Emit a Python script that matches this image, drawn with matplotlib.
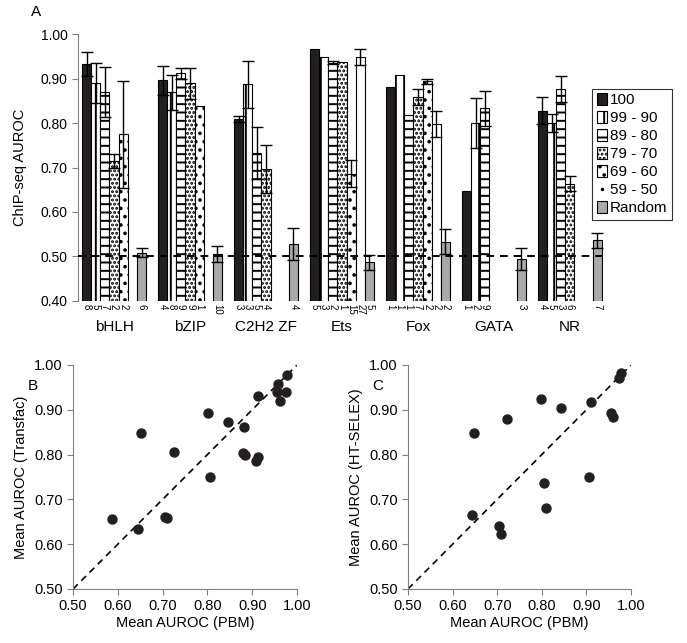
import numpy as np
import matplotlib.pyplot as plt
from matplotlib.patches import Patch
from matplotlib.lines import Line2D

plt.rcParams['font.family'] = ['Liberation Sans', 'DejaVu Sans']
plt.rcParams['hatch.linewidth'] = 1.4

# ---- panel A data ----
groups = ["bHLH", "bZIP", "C2H2 ZF", "Ets", "Fox", "GATA", "NR"]
categories = ["100", "99 - 90", "89 - 80", "79 - 70", "69 - 60", "59 - 50"]

means = [
    [0.933, 0.891, 0.869, 0.715, 0.775],
    [0.896, 0.869, 0.912, 0.889, 0.839],
    [0.809, 0.887, 0.733, 0.696],
    [0.966, 0.948, 0.936, 0.937, 0.686, 0.948],
    [0.882, 0.909, 0.817, 0.858, 0.894, 0.797],
    [0.648, 0.800, 0.833],
    [0.828, 0.800, 0.877, 0.664],
]
errs = [
    [0.027, 0.045, 0.056, 0.016, 0.120],
    [0.032, 0.039, 0.012, 0.035, 0.0],
    [0.007, 0.053, 0.059, 0.054],
    [0.0, 0.0, 0.004, 0.0, 0.030, 0.018],
    [0.0, 0.0, 0.0, 0.018, 0.006, 0.029],
    [0.0, 0.057, 0.040],
    [0.030, 0.020, 0.029, 0.017],
]
counts = [
    [8, 5, 7, 2, 2],
    [4, 8, 9, 9, 1],
    [3, 3, 5, 4],
    [5, 3, 2, 1, 15, 27],
    [1, 1, 1, 7, 2, 2],
    [1, 2, 9],
    [4, 5, 3, 6],
]
rand_mean = [0.508, 0.505, 0.527, 0.487, 0.533, 0.494, 0.536]
rand_err = [0.010, 0.018, 0.036, 0.017, 0.028, 0.024, 0.016]
rand_n = [6, 10, 4, 5, 2, 3, 7]

# ---- panel B / C data ----
pbm_b = [0.978, 0.958, 0.955, 0.975, 0.962, 0.914, 0.801, 0.845, 0.882, 0.651,
         0.725, 0.880, 0.884, 0.912, 0.908, 0.806, 0.586, 0.705, 0.710, 0.646]
transfac = [0.977, 0.957, 0.940, 0.940, 0.919, 0.931, 0.893, 0.872, 0.861, 0.848,
            0.806, 0.803, 0.800, 0.794, 0.785, 0.750, 0.656, 0.661, 0.658, 0.634]

pbm_c = [0.977, 0.972, 0.799, 0.843, 0.910, 0.956, 0.960, 0.723, 0.649, 0.906,
         0.804, 0.810, 0.643, 0.704, 0.708]
htselex = [0.982, 0.971, 0.923, 0.904, 0.917, 0.892, 0.883, 0.879, 0.848, 0.751,
           0.737, 0.680, 0.665, 0.641, 0.622]

# styles per category
face = {"100": "#231f20", "99 - 90": "white", "89 - 80": "white",
        "79 - 70": "white", "69 - 60": "white", "59 - 50": "white"}
hatch = {"100": "", "99 - 90": "||", "89 - 80": "--",
         "79 - 70": "....", "69 - 60": "..", "59 - 50": ""}
rand_color = "#a9a9a9"
axis_gray = "#808080"

fig = plt.figure(figsize=(6.87, 6.43), dpi=100)

# ================= panel A =================
ax = fig.add_axes([0.1135, 0.532, 0.764, 0.415])
pitch = 8.3
for g, name in enumerate(groups):
    x0 = g * pitch
    for i, m in enumerate(means[g]):
        cat = categories[i]
        ax.bar(x0 + i, m, width=1, align="edge", color=face[cat], hatch=hatch[cat],
               edgecolor="black", linewidth=0.8)
        if errs[g][i] > 0:
            ax.errorbar(x0 + i + 0.5, m, yerr=errs[g][i], fmt="none", ecolor="black",
                        elinewidth=1, capsize=4, capthick=1)
        ax.text(x0 + i + 0.5, -0.01, str(counts[g][i]), rotation=270, fontsize=7,
                ha="center", va="top", transform=ax.get_xaxis_transform())
    xr = x0 + 6
    ax.bar(xr, rand_mean[g], width=1, align="edge", color=rand_color,
           edgecolor="black", linewidth=0.8)
    ax.errorbar(xr + 0.5, rand_mean[g], yerr=rand_err[g], fmt="none", ecolor="black",
                elinewidth=1, capsize=4, capthick=1)
    ax.text(xr + 0.5, -0.01, str(rand_n[g]), rotation=270, fontsize=7,
            ha="center", va="top", transform=ax.get_xaxis_transform())
    ax.text(x0 + 3.5, -0.07, name, fontsize=11, ha="center", va="top",
            transform=ax.get_xaxis_transform())

ax.axhline(0.5, color="black", linestyle=(0, (4, 3)), linewidth=1.4, zorder=10)
ax.set_ylim(0.4, 1.0)
ax.set_xlim(-0.44, 6 * pitch + 7.1)
ax.set_yticks(np.arange(0.4, 1.001, 0.1))
ax.set_yticklabels([f"{v:.2f}" for v in np.arange(0.4, 1.001, 0.1)], fontsize=10)
ax.set_xticks([])
for s in ["top", "right", "bottom"]:
    ax.spines[s].set_visible(False)
ax.spines["left"].set_color(axis_gray)
ax.tick_params(axis="y", colors=axis_gray, labelcolor="black", length=4)
ax.set_ylabel("ChIP-seq AUROC", fontsize=10.5, labelpad=10)

handles = []
for cat in categories:
    if cat == "59 - 50":
        handles.append(Line2D([], [], marker=".", color="black", linestyle="none",
                              markersize=3))
    else:
        handles.append(Patch(facecolor=face[cat], hatch=hatch[cat], edgecolor="black",
                             linewidth=0.8))
handles.append(Patch(facecolor=rand_color, edgecolor="black", linewidth=0.8))
leg = fig.legend(handles, categories + ["Random"], loc="upper left",
                 bbox_to_anchor=(0.862, 0.862), bbox_transform=fig.transFigure,
                 fontsize=11, frameon=True, fancybox=False, handlelength=0.7,
                 handleheight=0.8, handletextpad=0.15, labelspacing=0.25,
                 borderpad=0.3, borderaxespad=0)
leg.get_frame().set_edgecolor("black")
leg.get_frame().set_linewidth(0.8)

fig.text(0.052, 0.981, "A", fontsize=11, ha="center", va="center")


def scatter_panel(rect, xs, ys, ylabel):
    a = fig.add_axes(rect)
    a.plot([0.5, 1.0], [0.5, 1.0], color="black", linestyle=(0, (4, 3)), linewidth=1.2)
    a.scatter(xs, ys, s=42, color="#231f20", zorder=5, clip_on=False)
    a.set_xlim(0.5, 1.0)
    a.set_ylim(0.5, 1.0)
    ticks = np.arange(0.5, 1.001, 0.1)
    a.set_xticks(ticks)
    a.set_yticks(ticks)
    a.set_xticklabels([f"{v:.2f}" for v in ticks], fontsize=10.5)
    a.set_yticklabels([f"{v:.2f}" for v in ticks], fontsize=10.5)
    for s in ["top", "right"]:
        a.spines[s].set_visible(False)
    for s in ["left", "bottom"]:
        a.spines[s].set_color(axis_gray)
    a.tick_params(colors=axis_gray, labelcolor="black", length=4)
    a.set_xlabel("Mean AUROC (PBM)", fontsize=10.5, labelpad=2)
    a.set_ylabel(ylabel, fontsize=10.5)
    return a


scatter_panel([0.1063, 0.084, 0.326, 0.3484], pbm_b, transfac, "Mean AUROC (Transfac)")
scatter_panel([0.5939, 0.084, 0.3246, 0.3484], pbm_c, htselex, "Mean AUROC (HT-SELEX)")

fig.text(0.048, 0.400, "B", fontsize=11, ha="center", va="center")
fig.text(0.550, 0.400, "C", fontsize=11, ha="center", va="center")

fig.savefig("out.png", dpi=100)
